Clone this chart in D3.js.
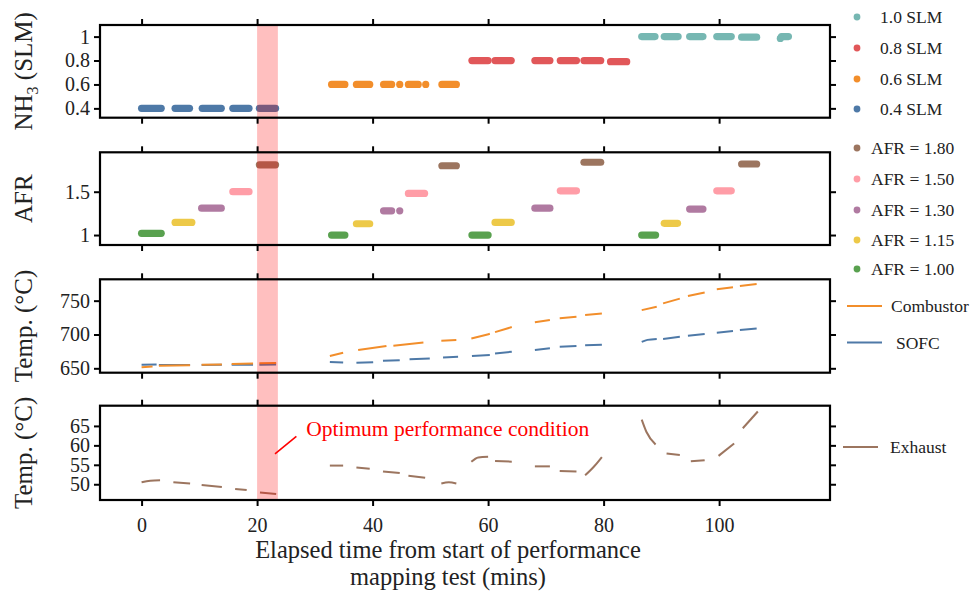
<!DOCTYPE html>
<html>
<head>
<meta charset="utf-8">
<script src="https://cdn.jsdelivr.net/npm/d3@7"></script>
<style>
  body { margin: 0; background: #fff; }
  svg { font-family: "Liberation Serif", "Times New Roman", serif; }
</style>
</head>
<body>
<div id="chart"></div>
<script>
// ---------- data ----------
const xTicks = [0, 20, 40, 60, 80, 100];
const optimumWindow = [20, 23.6];

// NH3 flow runs: [start min, end min, SLM]
const nh3Runs04 = [[0.0, 3.4, 0.4], [5.8, 8.3, 0.4], [10.5, 13.8, 0.4], [15.8, 18.6, 0.4], [20.4, 23.2, 0.4]];
const nh3Runs06 = [[32.9, 35.2, 0.6], [37.2, 39.5, 0.6], [41.9, 43.3, 0.6], [44.7, 44.7, 0.6], [46.2, 47.9, 0.6], [49.2, 49.2, 0.6], [52.0, 54.5, 0.6]];
const nh3Runs08 = [[57.2, 60.0, 0.8], [61.2, 64.0, 0.8], [68.1, 70.7, 0.8], [72.5, 75.3, 0.8], [76.6, 79.5, 0.8], [81.2, 84.0, 0.79]];
const nh3Runs10 = [[86.6, 88.9, 1.0], [90.5, 92.9, 1.0], [94.9, 97.2, 1.0], [99.6, 102.1, 1.0], [103.9, 106.5, 0.995], [110.8, 112.0, 1.0], [110.6, 110.6, 0.985]];
const nh3Labels = ['1.0 SLM', '0.8 SLM', '0.6 SLM', '0.4 SLM'];
const nh3TickValues = [0.4, 0.6, 0.8, 1];
const nh3TickLabels = ['0.4', '0.6', '0.8', '1'];

// air/fuel ratio runs: [start min, end min, AFR]
const afrRuns100 = [[0.0, 3.4, 1.02], [32.9, 35.2, 1.0], [57.2, 60.0, 1.0], [86.6, 89.0, 1.0]];
const afrRuns115 = [[5.8, 8.7, 1.145], [37.2, 39.5, 1.13], [61.2, 64.0, 1.146], [90.5, 92.8, 1.135]];
const afrRuns130 = [[10.4, 13.8, 1.31], [41.9, 43.3, 1.28], [44.7, 44.7, 1.28], [68.1, 70.7, 1.31], [94.9, 97.2, 1.30]];
const afrRuns150 = [[15.8, 18.6, 1.50], [46.2, 49.0, 1.48], [72.5, 75.3, 1.51], [99.6, 102.1, 1.51]];
const afrRuns180 = [[20.4, 23.2, 1.81], [52.0, 54.5, 1.80], [76.6, 79.5, 1.84], [103.9, 106.5, 1.82]];
const afrLabels = ['AFR = 1.80', 'AFR = 1.50', 'AFR = 1.30', 'AFR = 1.15', 'AFR = 1.00'];
const afrTickValues = [1, 1.5];
const afrTickLabels = ['1', '1.5'];

// temperatures: each entry is one logged stretch of [min, degC] points
const combustorTemp = [
  [[0, 651.5], [1.9, 652.5]], [[3.0, 653.8], [8.4, 654.4]], [[10.4, 655.2], [13.9, 655.8]],
  [[15.6, 656.5], [19.3, 657]], [[20.4, 657.5], [23.3, 658]],
  [[32.6, 668.2], [34.9, 673]], [[37.5, 677], [42.4, 683]], [[43.6, 683.5], [48.8, 688]],
  [[51.9, 690.8], [54.5, 691.9]], [[57.1, 694], [58.5, 697], [60.3, 701]], [[61.2, 703.5], [64.1, 711]],
  [[68.1, 718], [70.7, 721.4]], [[72.4, 724], [75.3, 726.3]], [[76.8, 728.8], [79.7, 731]],
  [[86.6, 736], [89.2, 741]], [[90.3, 746], [93.2, 753]], [[94.6, 757], [97.5, 762]],
  [[99.6, 767], [102.4, 770]], [[103.6, 771.7], [106.5, 774.5]]
];
const sofcTemp = [
  [[0, 655.3], [2.6, 655.8]], [[3.0, 654.8], [8.4, 655]], [[10.4, 655], [13.9, 655.2]],
  [[15.6, 655.2], [19.3, 655.3]], [[20.4, 655.3], [23.3, 655.5]],
  [[32.6, 659.3], [34.9, 658.5]], [[37.2, 658.3], [40.1, 659]], [[41.8, 661], [44.7, 662]],
  [[46.4, 663.5], [49.9, 664.5]], [[52.2, 666], [54.8, 667]], [[57.2, 668.2], [60.3, 669.5]],
  [[61.2, 672], [64.1, 674.5]], [[68.1, 677], [70.7, 679.5]], [[72.4, 682], [75.3, 683]],
  [[76.8, 684], [79.7, 685]], [[86.6, 689], [87.6, 692], [89.2, 693.5]], [[90.3, 693.5], [93.2, 696.5]],
  [[94.6, 698.2], [97.5, 700.7]], [[99.6, 702.7], [102.4, 705]], [[103.6, 706.7], [106.5, 709]]
];
const exhaustTemp = [
  [[0, 50.5], [1.5, 50.9], [3.2, 51.0]], [[5.5, 50.5], [8.4, 50.2]], [[10.4, 49.8], [13.9, 49.3]],
  [[16.2, 48.8], [18.2, 48.5]], [[20.5, 47.9], [23.3, 47.5]],
  [[32.6, 54.8], [34.9, 54.8]], [[37.2, 54.3], [39.5, 54.0]], [[41.8, 53.3], [44.7, 52.9]],
  [[46.2, 52.2], [49.1, 51.7]], [[51.9, 50.2], [53.2, 50.5], [54.5, 50.2]],
  [[57.1, 55.8], [58.3, 56.9], [60.0, 57.1]], [[61.2, 56.0], [64.1, 55.8]],
  [[68.1, 54.6], [70.7, 54.6]], [[72.4, 53.4], [75.3, 53.3]], [[76.8, 52.3], [78.3, 54.5], [79.7, 57.0]],
  [[86.6, 66.6], [87.4, 63.5], [89.0, 60.2]], [[90.9, 57.9], [93.2, 57.5]], [[95.1, 55.9], [97.5, 56.2]],
  [[99.9, 57.3], [102.6, 60.5]], [[104.1, 64.4], [106.7, 68.7]]
];
const tempTickValues = [650, 700, 750];
const exhaustTickValues = [50, 55, 60, 65];

// ---------- layout ----------
const width = 970, height = 596;
const plotLeft = 100, plotRight = 830;
const tab = { blue: '#4e79a7', orange: '#f28e2b', red: '#e15759', teal: '#76b7b2', green: '#59a14f',
  yellow: '#edc948', purple: '#b07aa1', pink: '#ff9da7', brown: '#9c755f' };

const svg = d3.select('#chart').append('svg')
  .attr('width', width).attr('height', height);

const x = d3.scaleLinear().domain([-7.2, 119.2]).range([plotLeft, plotRight]);

const panels = [
  { top: 25, bottom: 117.7, domain: [0.322, 1.097], ticks: nh3TickValues, labels: nh3TickLabels },
  { top: 152.3, bottom: 245, domain: [0.885, 1.955], ticks: afrTickValues, labels: afrTickLabels },
  { top: 279.3, bottom: 372.7, domain: [643.5, 781.6], ticks: tempTickValues, labels: tempTickValues.map(String) },
  { top: 405.7, bottom: 500, domain: [45.95, 70.2], ticks: exhaustTickValues, labels: exhaustTickValues.map(String) }
];
panels.forEach(function(p) {
  p.y = d3.scaleLinear().domain(p.domain).range([p.bottom, p.top]);
});

const marks = svg.append('g');

// scatter runs drawn as rows of overlapping dots
function drawRuns(runs, y, color) {
  runs.forEach(function(r) {
    if (r[0] === r[1]) {
      marks.append('circle')
        .attr('cx', x(r[0])).attr('cy', y(r[2])).attr('r', 3.6)
        .attr('fill', color);
    } else {
      marks.append('line')
        .attr('x1', x(r[0])).attr('x2', x(r[1]))
        .attr('y1', y(r[2])).attr('y2', y(r[2]))
        .attr('stroke', color).attr('stroke-width', 7.2)
        .attr('stroke-linecap', 'round');
    }
  });
}

drawRuns(nh3Runs04, panels[0].y, tab.blue);
drawRuns(nh3Runs06, panels[0].y, tab.orange);
drawRuns(nh3Runs08, panels[0].y, tab.red);
drawRuns(nh3Runs10, panels[0].y, tab.teal);

drawRuns(afrRuns100, panels[1].y, tab.green);
drawRuns(afrRuns115, panels[1].y, tab.yellow);
drawRuns(afrRuns130, panels[1].y, tab.purple);
drawRuns(afrRuns150, panels[1].y, tab.pink);
drawRuns(afrRuns180, panels[1].y, tab.brown);

function drawTemp(pieces, y, color) {
  const line = d3.line()
    .x(d => x(d[0]))
    .y(d => y(d[1]))
    .curve(d3.curveMonotoneX);
  marks.selectAll(null).data(pieces).enter()
    .append('path')
    .attr('d', line)
    .attr('fill', 'none')
    .attr('stroke', color)
    .attr('stroke-width', 2);
}

drawTemp(sofcTemp, panels[2].y, tab.blue);
drawTemp(combustorTemp, panels[2].y, tab.orange);
drawTemp(exhaustTemp, panels[3].y, tab.brown);

// optimum condition shading across all panels
svg.append('rect')
  .attr('x', x(optimumWindow[0]))
  .attr('width', x(optimumWindow[1]) - x(optimumWindow[0]))
  .attr('y', panels[0].top + 1)
  .attr('height', panels[3].bottom - panels[0].top - 2)
  .attr('fill', 'red')
  .attr('fill-opacity', 0.25);

// axes and frames
panels.forEach(function(p, i) {
  const g = svg.append('g');
  g.append('g').attr('transform', `translate(0,${p.top})`)
    .call(d3.axisTop(x).tickValues(xTicks).tickSize(6).tickFormat(''));
  g.append('g').attr('transform', `translate(0,${p.bottom})`)
    .call(d3.axisBottom(x).tickValues(xTicks).tickSize(6).tickPadding(12)
      .tickFormat(i === 3 ? d3.format('d') : ''));
  g.append('g').attr('transform', `translate(${plotLeft},0)`)
    .call(d3.axisLeft(p.y).tickValues(p.ticks).tickSize(6).tickPadding(4)
      .tickFormat((d, k) => p.labels[k]));
  g.append('g').attr('transform', `translate(${plotRight},0)`)
    .call(d3.axisRight(p.y).tickValues(p.ticks).tickSize(6).tickFormat(''));

  g.selectAll('.domain').remove();
  g.selectAll('.tick line').attr('stroke', '#000').attr('stroke-width', 2);
  g.selectAll('.tick text')
    .attr('font-family', '"Liberation Serif", serif')
    .attr('font-size', 20)
    .attr('fill', '#222');

  g.append('rect')
    .attr('x', plotLeft).attr('y', p.top)
    .attr('width', plotRight - plotLeft).attr('height', p.bottom - p.top)
    .attr('fill', 'none').attr('stroke', '#000').attr('stroke-width', 2.2);
});

// y axis titles
const titleX = 32;
function yTitle(p) {
  return svg.append('text')
    .attr('transform', `translate(${titleX},${(p.top + p.bottom) / 2}) rotate(-90)`)
    .attr('text-anchor', 'middle')
    .attr('font-size', 25)
    .attr('fill', '#222');
}
const nh3Title = yTitle(panels[0]);
nh3Title.append('tspan').text('NH');
nh3Title.append('tspan').text('3').attr('font-size', 16).attr('dy', 6);
nh3Title.append('tspan').text(' (SLM)').attr('dy', -6);
yTitle(panels[1]).text('AFR');
yTitle(panels[2]).text('Temp. (°C)');
yTitle(panels[3]).text('Temp. (°C)');

// x axis title
const xTitle = svg.append('text')
  .attr('text-anchor', 'middle')
  .attr('font-size', 24.5)
  .attr('fill', '#222');
xTitle.append('tspan').attr('x', 448).attr('y', 558).text('Elapsed time from start of performance');
xTitle.append('tspan').attr('x', 448).attr('y', 585).text('mapping test (mins)');

// annotation
const yE = panels[3].y;
svg.append('line')
  .attr('x1', x(23.1)).attr('y1', yE(57.8))
  .attr('x2', x(26.8)).attr('y2', yE(62.3))
  .attr('stroke', 'red').attr('stroke-width', 1.6);
svg.append('text')
  .attr('x', x(28.5)).attr('y', yE(62.3))
  .attr('font-size', 21.5)
  .attr('fill', 'red')
  .text('Optimum performance condition');

// legends
const legendFont = 17.5;
function dotLegend(labels, colors, ys, dotX, textX) {
  labels.forEach(function(label, i) {
    svg.append('circle').attr('cx', dotX).attr('cy', ys[i]).attr('r', 3.4).attr('fill', colors[i]);
    svg.append('text').attr('x', textX).attr('y', ys[i]).attr('dy', '0.35em')
      .attr('font-size', legendFont).attr('fill', '#222').text(label);
  });
}
dotLegend(nh3Labels, [tab.teal, tab.red, tab.orange, tab.blue], [17, 48, 79, 109], 857, 880);
dotLegend(afrLabels, [tab.brown, tab.pink, tab.purple, tab.yellow, tab.green], [148, 179, 210, 240, 269], 857, 871);

function lineLegend(label, color, y, x1, x2, textX) {
  svg.append('line').attr('x1', x1).attr('x2', x2).attr('y1', y).attr('y2', y)
    .attr('stroke', color).attr('stroke-width', 2);
  svg.append('text').attr('x', textX).attr('y', y).attr('dy', '0.35em')
    .attr('font-size', legendFont).attr('fill', '#222').text(label);
}
lineLegend('Combustor', tab.orange, 306, 847, 882, 891);
lineLegend('SOFC', tab.blue, 342.5, 847, 882, 896);
lineLegend('Exhaust', tab.brown, 447, 843, 878, 890);
</script>
</body>
</html>
